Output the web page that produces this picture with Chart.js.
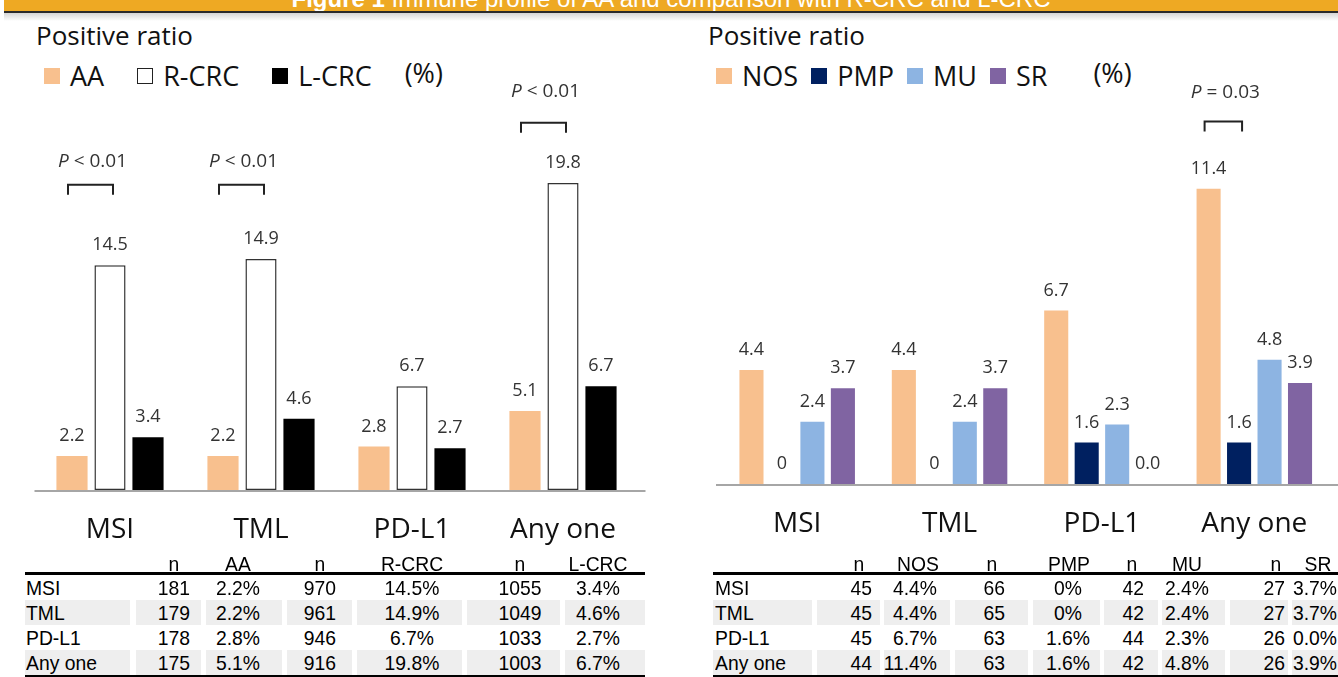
<!DOCTYPE html>
<html><head><meta charset="utf-8">
<script src="https://cdn.jsdelivr.net/npm/chart.js@4.4.1/dist/chart.umd.min.js"></script>
<style>
html,body{margin:0;padding:0;background:#fff;}
body{width:1338px;height:677px;overflow:hidden;position:relative;font-family:"Open Sans",sans-serif;}
#banner{position:absolute;left:4px;top:0;width:1334px;height:11px;background:#eea923;overflow:hidden;}
#banner span{position:absolute;left:0;right:0;top:-13px;text-align:center;color:#fff;font-family:"Liberation Sans",Arial,sans-serif;font-size:24px;line-height:24px;white-space:nowrap;}
#bannerLine{position:absolute;left:4px;top:11px;width:1334px;height:2px;background:#2b2b2b;}
#bannerShadow{position:absolute;left:4px;top:13px;width:1334px;height:8px;background:linear-gradient(#d6d6d6,#ffffff);}
.title{position:absolute;font-size:26px;color:#111;line-height:26px;white-space:nowrap;}
.legend{position:absolute;display:flex;align-items:center;font-size:27px;color:#111;line-height:27px;white-space:nowrap;}
.legend .item{display:flex;align-items:center;}
.legend .sw{width:16px;height:16px;display:inline-block;margin-right:10px;box-sizing:border-box;}
canvas{position:absolute;}
.cell{position:absolute;white-space:nowrap;line-height:25px;height:25px;font-family:"Liberation Sans",Arial,sans-serif;font-size:21px;color:#000;}
.shade{position:absolute;background:#eeeeee;height:25px;}
.rule{position:absolute;background:#000;}
</style></head>
<body>
<div id="banner"><span><b>Figure 1</b> Immune profile of AA and comparison with R-CRC and L-CRC</span></div>
<div id="bannerLine"></div><div id="bannerShadow"></div>
<div class="title" style="left:36px;top:22px;">Positive ratio</div>
<div class="title" style="left:708px;top:22px;">Positive ratio</div>
<div class="legend" id="legL" style="left:44px;top:62px;gap:33px;"></div>
<div class="legend" id="legR" style="left:716px;top:62px;gap:13px;"></div>
<canvas id="cL" width="665" height="550" style="left:0;top:20px;"></canvas>
<canvas id="cR" width="648" height="550" style="left:690px;top:20px;"></canvas>
<div id="tables"></div>
<script>
// ---------- DATA ----------
const categories = ["MSI", "TML", "PD-L1", "Any one"];

// Left panel: AA vs R-CRC vs L-CRC (positive ratio, %)
const leftSeriesNames = ["AA", "R-CRC", "L-CRC"];
const aaValues   = [2.2, 2.2, 2.8, 5.1];
const rcrcValues = [14.5, 14.9, 6.7, 19.8];
const lcrcValues = [3.4, 4.6, 2.7, 6.7];
const aaN   = [181, 179, 178, 175];
const rcrcN = [970, 961, 946, 916];
const lcrcN = [1055, 1049, 1033, 1003];

// Right panel: AA subtypes (positive ratio, %)
const rightSeriesNames = ["NOS", "PMP", "MU", "SR"];
const nosValues = [4.4, 4.4, 6.7, 11.4];
const pmpValues = [0, 0, 1.6, 1.6];
const muValues  = [2.4, 2.4, 2.3, 4.8];
const srValues  = [3.7, 3.7, 0.0, 3.9];
const nosLabels = ["4.4", "4.4", "6.7", "11.4"];
const pmpLabels = ["0", "0", "1.6", "1.6"];
const muLabels  = ["2.4", "2.4", "2.3", "4.8"];
const srLabels  = ["3.7", "3.7", "0.0", "3.9"];
const nosN = [45, 45, 45, 44];
const pmpN = [66, 65, 63, 63];
const muN  = [42, 42, 44, 42];
const srN  = [27, 27, 26, 26];

// Significance annotations
const leftPTexts  = ["< 0.01", "< 0.01", null, "< 0.01"];
const rightPTexts = [null, null, null, "= 0.03"];

// ---------- STYLE ----------
const C_AA = "#F8C08E", C_BLACK = "#000000";
const C_NOS = "#F8C08E", C_PMP = "#002060", C_MU = "#8DB4E2", C_SR = "#8064A2";
const fmt1 = v => v.toFixed(1);

// ---------- LEGENDS ----------
function buildLegend(el, items, extra, extraGap) {
  items.forEach(it => {
    const d = document.createElement("div"); d.className = "item";
    const s = document.createElement("span"); s.className = "sw";
    s.style.background = it.bg; if (it.border) s.style.border = it.border;
    d.appendChild(s); d.appendChild(document.createTextNode(it.label));
    el.appendChild(d);
  });
  const p = document.createElement("div"); p.textContent = extra; p.style.marginTop = "-6px";
  p.style.marginLeft = extraGap + "px";
  el.appendChild(p);
}
buildLegend(document.getElementById("legL"), [
  {label: leftSeriesNames[0], bg: C_AA},
  {label: leftSeriesNames[1], bg: "#fff", border: "1.5px solid #222"},
  {label: leftSeriesNames[2], bg: C_BLACK}
], "(%)", 0);
buildLegend(document.getElementById("legR"), [
  {label: rightSeriesNames[0], bg: C_NOS},
  {label: rightSeriesNames[1], bg: C_PMP},
  {label: rightSeriesNames[2], bg: C_MU},
  {label: rightSeriesNames[3], bg: C_SR}
], "(%)", 33);

// ---------- PLUGINS ----------
const valueLabels = {
  id: "valueLabels",
  afterDatasetsDraw(chart) {
    const ctx = chart.ctx;
    ctx.save();
    ctx.font = "18px 'Open Sans', sans-serif";
    ctx.fillStyle = "#333";
    ctx.textAlign = "center"; ctx.textBaseline = "middle";
    chart.data.datasets.forEach((ds, di) => {
      chart.getDatasetMeta(di).data.forEach((bar, i) => {
        const t = ds.valueText ? ds.valueText[i] : fmt1(ds.data[i]);
        ctx.fillText(t, bar.x, bar.y - 20);
      });
    });
    ctx.restore();
  }
};
const baseLine = {
  id: "baseLine",
  beforeDatasetsDraw(chart, args, opts) {
    const ctx = chart.ctx, a = chart.chartArea;
    ctx.save();
    ctx.strokeStyle = "#a6a6a6"; ctx.lineWidth = 2;
    ctx.beginPath();
    ctx.moveTo(a.left - opts.extLeft, a.bottom + 1); ctx.lineTo(a.right + opts.extRight, a.bottom + 1);
    ctx.stroke();
    ctx.restore();
  }
};
const pBrackets = {
  id: "pBrackets",
  afterDatasetsDraw(chart, args, opts) {
    const ctx = chart.ctx, ys = chart.scales.y;
    ctx.save();
    (opts.texts || []).forEach((txt, i) => {
      if (!txt) return;
      const a = chart.getDatasetMeta(0).data[i], b = chart.getDatasetMeta(1).data[i];
      const x1 = a.x - 4, x2 = b.x + 3;
      const yb = ys.getPixelForValue(opts.bracketLevel[i]);
      ctx.strokeStyle = "#222"; ctx.lineWidth = 2;
      ctx.beginPath();
      ctx.moveTo(x1, yb + 10); ctx.lineTo(x1, yb); ctx.lineTo(x2, yb); ctx.lineTo(x2, yb + 10);
      ctx.stroke();
      const yt = ys.getPixelForValue(opts.textLevel[i]);
      const fP = "italic 19px 'Open Sans', sans-serif", fR = "19px 'Open Sans', sans-serif";
      ctx.font = fP; const wP = ctx.measureText("P").width;
      ctx.font = fR; const rest = " " + txt; const wR = ctx.measureText(rest).width;
      const cx = (x1 + x2) / 2 + 2, x0 = cx - (wP + wR) / 2;
      ctx.fillStyle = "#333"; ctx.textBaseline = "middle"; ctx.textAlign = "left";
      ctx.font = fP; ctx.fillText("P", x0, yt);
      ctx.font = fR; ctx.fillText(rest, x0 + wP, yt);
    });
    ctx.restore();
  }
};

function baseOptions(padding, ymax, catPct, barPct, plugOpts, ext) {
  return {
    responsive: false, animation: false, devicePixelRatio: 1,
    layout: { padding },
    datasets: { bar: { categoryPercentage: catPct, barPercentage: barPct } },
    plugins: { legend: { display: false }, tooltip: { enabled: false }, pBrackets: plugOpts, baseLine: ext },
    scales: {
      x: {
        grid: { display: false, drawTicks: false },
        border: { display: false },
        ticks: { color: "#111", padding: 23.2, font: { family: "'Open Sans', sans-serif", size: 28 } }
      },
      y: { display: false, min: 0, max: ymax }
    }
  };
}

new Chart(document.getElementById("cL"), {
  type: "bar",
  data: {
    labels: categories,
    datasets: [
      { label: leftSeriesNames[0], data: aaValues, backgroundColor: C_AA, borderWidth: 0 },
      { label: leftSeriesNames[1], data: rcrcValues, backgroundColor: "#fff", borderColor: "#333", borderWidth: 1.5, borderSkipped: false },
      { label: leftSeriesNames[2], data: lcrcValues, backgroundColor: C_BLACK, borderWidth: 0 }
    ]
  },
  options: baseOptions({ left: 34.5, right: 26.5, top: 67, bottom: 0 }, 26, 0.755, 0.82,
    { texts: leftPTexts, bracketLevel: [19.7, 19.7, 0, 23.7], textLevel: [21.2, 21.2, 0, 25.7] },
    { extLeft: 0, extRight: 7 }),
  plugins: [baseLine, valueLabels, pBrackets]
});

new Chart(document.getElementById("cR"), {
  type: "bar",
  data: {
    labels: categories,
    datasets: [
      { label: rightSeriesNames[0], data: nosValues, valueText: nosLabels, backgroundColor: C_NOS, borderWidth: 0 },
      { label: rightSeriesNames[1], data: pmpValues, valueText: pmpLabels, backgroundColor: C_PMP, borderWidth: 0 },
      { label: rightSeriesNames[2], data: muValues, valueText: muLabels, backgroundColor: C_MU, borderWidth: 0 },
      { label: rightSeriesNames[3], data: srValues, valueText: srLabels, backgroundColor: C_SR, borderWidth: 0 }
    ]
  },
  options: baseOptions({ left: 31, right: 7.5, top: 75.5, bottom: 6 }, 15, 0.80, 0.79,
    { texts: rightPTexts, bracketLevel: [0, 0, 0, 14.0], textLevel: [0, 0, 0, 15.1] },
    { extLeft: 5, extRight: 8 }),
  plugins: [baseLine, valueLabels, pBrackets]
});

// ---------- TABLES ----------
const tables = document.getElementById("tables");
function addDiv(cls, style, text) {
  const d = document.createElement("div"); d.className = cls;
  Object.assign(d.style, style); if (text !== undefined) d.textContent = text;
  tables.appendChild(d); return d;
}
function place(x, align, top, text) {
  const st = { top: top + "px", transform: "scaleX(0.92)" };
  if (align === "center") { st.left = (x - 60) + "px"; st.width = "120px"; st.textAlign = "center"; st.transformOrigin = "center"; }
  else if (align === "right") { st.left = (x - 120) + "px"; st.width = "120px"; st.textAlign = "right"; st.transformOrigin = "right"; }
  else { st.left = x + "px"; st.transformOrigin = "left"; }
  addDiv("cell", st, text);
}
function buildTable(spec) {
  const rowTop = [551, 575, 600, 625, 650];
  [2, 4].forEach(r => spec.segs.forEach(([a, b]) =>
    addDiv("shade", { left: a + "px", top: rowTop[r] + "px", width: (b - a) + "px" })));
  addDiv("rule", { left: spec.x0 + "px", top: "572px", width: (spec.x1 - spec.x0) + "px", height: "3px" });
  addDiv("rule", { left: spec.x0 + "px", top: "675px", width: (spec.x1 - spec.x0) + "px", height: "2px" });
  spec.headers.forEach((h, c) => place(spec.headX[c], "center", rowTop[0], h));
  categories.forEach((cat, r) => {
    place(spec.labelX, "left", rowTop[r + 1], cat);
    spec.cols.forEach((col, c) => place(spec.cellX[c], spec.align[c], rowTop[r + 1], col[r]));
  });
}
buildTable({
  x0: 25, x1: 645, labelX: 26,
  headers: ["n", leftSeriesNames[0], "n", leftSeriesNames[1], "n", leftSeriesNames[2]],
  headX: [174, 238, 320, 412, 520, 598],
  cellX: [174, 238, 320, 412, 520, 598],
  align: ["center", "center", "center", "center", "center", "center"],
  segs: [[25,130],[136,201],[206,282],[287,352],[357,462],[467,560],[565,645]],
  cols: [aaN, aaValues.map(v => fmt1(v) + "%"), rcrcN, rcrcValues.map(v => fmt1(v) + "%"), lcrcN, lcrcValues.map(v => fmt1(v) + "%")]
});
buildTable({
  x0: 713, x1: 1338, labelX: 715,
  headers: ["n", rightSeriesNames[0], "n", rightSeriesNames[1], "n", rightSeriesNames[2], "n", rightSeriesNames[3]],
  headX: [859, 918, 992, 1069, 1132, 1187, 1276, 1318],
  cellX: [872, 937, 1005, 1068, 1144, 1209, 1285, 1337],
  align: ["right", "right", "right", "center", "right", "right", "right", "right"],
  segs: [[713,812],[817,880],[884,950],[955,1028],[1033,1100],[1104,1158],[1162,1225],[1230,1288],[1292,1338]],
  cols: [nosN, nosLabels.map(t => t + "%"), pmpN, pmpLabels.map(t => t + "%"), muN, muLabels.map(t => t + "%"), srN, srLabels.map(t => t + "%")]
});
</script>
</body></html>
